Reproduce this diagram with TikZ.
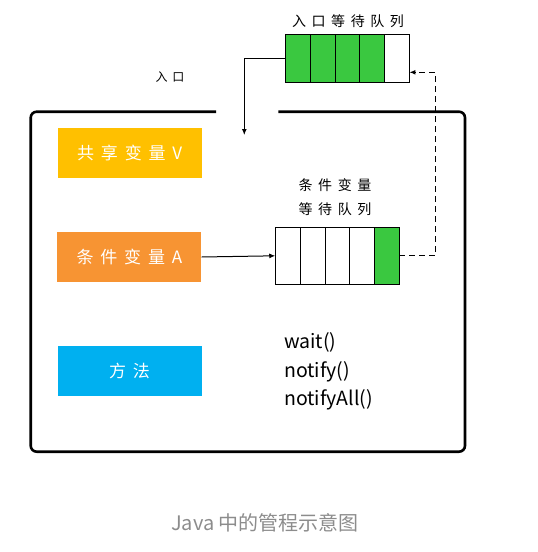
\documentclass[tikz,border=0pt]{standalone}
\usepackage{fontspec}
\setmainfont{Noto Sans CJK SC}
\newfontfamily\cjk[LetterSpace=40]{Noto Sans CJK SC}
\usetikzlibrary{arrows.meta}
\definecolor{qgreen}{RGB}{58,200,64}
\definecolor{varyellow}{RGB}{255,192,0}
\definecolor{varorange}{RGB}{247,148,51}
\definecolor{methblue}{RGB}{0,176,240}
\definecolor{capgray}{RGB}{140,140,140}
\tikzset{
  cell/.style={draw, line width=0.9pt, minimum width=24.66pt, inner sep=0pt},
  varbox/.style={minimum width=144pt, minimum height=50pt, inner sep=0pt, text=white, font=\cjk\fontsize{17}{20}\selectfont},
  lbl/.style={font=\cjk\fontsize{14}{24}\selectfont, align=center},
  arr/.style={-{Latex[length=6pt,width=5pt]}, line width=1pt}
}
\begin{document}
\begin{tikzpicture}[x=1pt,y=-1pt]
\useasboundingbox (0,0) rectangle (538,552);
% monitor
\draw[line width=2.6pt, rounded corners=6pt] (216,111.7) -- (30.7,111.7) -- (30.7,451.7) -- (465,451.7) -- (465,111.7) -- (278.3,111.7);
\node[lbl, font=\cjk\fontsize{12}{14}\selectfont] (in) at (170,77) {入口};

% entry queue
\node[lbl] (eqlbl) at (348,20.7) {入口等待队列};
\foreach \i/\c in {1/qgreen,2/qgreen,3/qgreen,4/qgreen,5/white}
  \node[cell, minimum height=48pt, fill=\c] (eq\i) at ({285.7+24.66*(\i-0.5)},58.3) {};
\coordinate (entry) at (244.3,135);
\draw[arr] (eq1.west) -| (entry);

% variables
\node[varbox, fill=varyellow] (varV) at (129.7,153.3) {共享变量V};
\node[varbox, fill=varorange] (varA) at (129.4,257) {条件变量A};
\node[varbox, fill=methblue] (meth) at (129.5,371.3) {方法};

% condition queue
\node[lbl] (cqlbl) at (335,197) {条件变量\\等待队列};
\foreach \i/\c in {1/white,2/white,3/white,4/white,5/qgreen}
  \node[cell, minimum height=56.3pt, fill=\c] (cq\i) at ({275.7+24.66*(\i-0.5)},255.8) {};
\draw[arr] (varA.east) -- (cq1.west);
\draw[arr, line width=1.2pt, dash pattern=on 6pt off 4pt] (cq5.east) -- ++(36,0) |- ([yshift=-14pt]eq5.east);

% methods
\node[anchor=west, align=left, inner sep=0pt, font=\fontsize{19.5}{28.5}\selectfont] (calls) at (284,371.7) {wait()\\notify()\\notifyAll()};

\node[text=capgray, font=\fontsize{20}{24}\selectfont] (cap) at (265,523) {Java 中的管程示意图};
\end{tikzpicture}
\end{document}
